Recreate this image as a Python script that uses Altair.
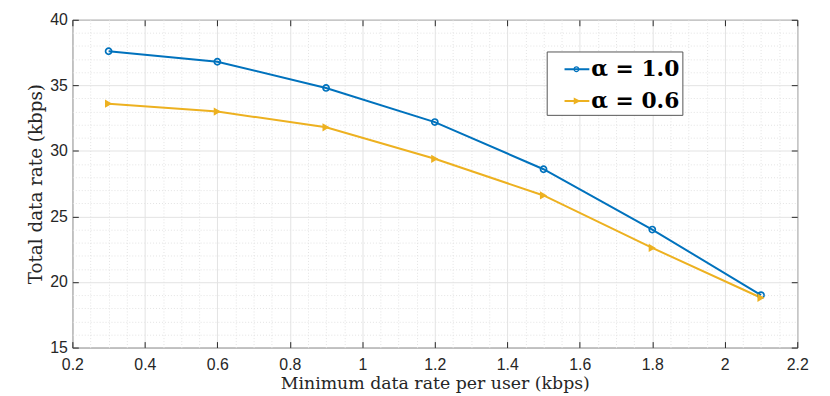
import altair as alt
import pandas as pd

# ---- data ----
x_vals = [0.3, 0.6, 0.9, 1.2, 1.5, 1.8, 2.1]
rate_a10 = [37.6, 36.8, 34.8, 32.2, 28.6, 24.0, 19.0]
rate_a06 = [33.6, 33.0, 31.8, 29.4, 26.6, 22.6, 18.8]
series_names = ["α = 1.0", "α = 0.6"]
series_colors = ["#0072BD", "#EDB120"]

x_major = [0.2, 0.4, 0.6, 0.8, 1.0, 1.2, 1.4, 1.6, 1.8, 2.0, 2.2]
y_major = [15, 20, 25, 30, 35, 40]
x_ticks = [round(0.2 + 0.05 * i, 2) for i in range(41)]
y_ticks = list(range(15, 41))

df = pd.DataFrame({
    "x": x_vals + x_vals,
    "y": rate_a10 + rate_a06,
    "series": [series_names[0]] * len(x_vals) + [series_names[1]] * len(x_vals),
})

# legend symbols: line + marker (unit-square paths)
legend_paths = [
    "M0,-0.07H1.67V0.07H0Z"
    "M1.0,0A0.2,0.2,0,1,1,0.6,0A0.2,0.2,0,1,1,1.0,0Z"
    "M0.92,0A0.12,0.12,0,1,0,0.68,0A0.12,0.12,0,1,0,0.92,0Z",
    "M0,-0.07H1.67V0.07H0Z"
    "M0.62,-0.24L1.09,0L0.62,0.24Z",
]

axis_color = "#262626"
grid_color = "#e3e3e3"
x_minor = "abs(datum.value*5 - round(datum.value*5)) > 0.001"
y_minor = "datum.value % 5 != 0"

xscale = alt.Scale(domain=[0.2, 2.2], nice=False, zero=False)
yscale = alt.Scale(domain=[15, 40], nice=False, zero=False)
cscale = alt.Scale(domain=series_names, range=series_colors)
sscale = alt.Scale(domain=series_names, range=legend_paths)

x_axis = alt.Axis(
    orient="bottom", values=x_ticks, title="Minimum data rate per user (kbps)",
    labelExpr=f"({x_minor}) ? '' : format(datum.value, '~g')",
    labelOverlap=False, labelFlush=False, labelFont="Liberation Sans", labelFontSize=16,
    labelColor=axis_color, labelPadding=15,
    tickSize=alt.ExprRef(expr="-6"), tickColor=axis_color,
    tickOpacity={"condition": {"test": x_minor, "value": 0}, "value": 1},
    grid=True, gridColor=grid_color, gridOpacity=1,
    gridDash={"condition": {"test": x_minor, "value": [1, 2]}, "value": []},
    domain=False, titleFont="DejaVu Serif", titleFontSize=17.5, titleFontWeight="normal",
    titleColor=axis_color, titlePadding=2,
)
y_axis = alt.Axis(
    orient="left", values=y_ticks, title="Total data rate (kbps)",
    labelExpr=f"({y_minor}) ? '' : format(datum.value, '~g')",
    labelOverlap=False, labelFlush=False, labelFont="Liberation Sans", labelFontSize=16,
    labelColor=axis_color, labelPadding=11,
    tickSize=alt.ExprRef(expr="-6"), tickColor=axis_color,
    tickOpacity={"condition": {"test": y_minor, "value": 0}, "value": 1},
    grid=True, gridColor=grid_color, gridOpacity=1,
    gridDash={"condition": {"test": y_minor, "value": [1, 2]}, "value": []},
    domain=False, titleFont="DejaVu Serif", titleFontSize=18.5, titleFontWeight="normal",
    titleColor=axis_color, titlePadding=4,
)
x_axis_top = alt.Axis(orient="top", values=x_major, labels=False, title=None, grid=False,
                      domain=False, tickSize=alt.ExprRef(expr="-6"), tickColor=axis_color)
y_axis_right = alt.Axis(orient="right", values=y_major, labels=False, title=None, grid=False,
                        domain=False, tickSize=alt.ExprRef(expr="-6"), tickColor=axis_color)

legend = alt.Legend(
    title=None, orient="none", legendX=479, legendY=32, padding=3,
    strokeColor="#555555", fillColor="white",
    labelFont="DejaVu Serif", labelFontWeight="bold", labelFontSize=22, labelColor="black",
    labelExpr="datum.label + '\u2002\u2009'",
    labelOffset=12, symbolSize=900, symbolOpacity=1, symbolStrokeWidth=0, rowPadding=6,
)

lines = alt.Chart(df).mark_line(strokeWidth=2).encode(
    x=alt.X("x:Q", scale=xscale, axis=x_axis),
    y=alt.Y("y:Q", scale=yscale, axis=y_axis),
    color=alt.Color("series:N", scale=cscale, legend=legend),
)

pts_a = alt.Chart(df).transform_filter(alt.datum.series == series_names[0]).mark_point(
    shape="circle", filled=False, color=series_colors[0], size=38, strokeWidth=1.7, opacity=1
).encode(
    x=alt.X("x:Q", scale=xscale, axis=None),
    y=alt.Y("y:Q", scale=yscale, axis=None),
)

pts_b = alt.Chart(df).transform_filter(alt.datum.series == series_names[1]).mark_point(
    shape="triangle-right", filled=True, color=series_colors[1], size=70, opacity=1
).encode(
    x=alt.X("x:Q", scale=xscale, axis=None),
    y=alt.Y("y:Q", scale=yscale, axis=None),
)

legend_layer = alt.Chart(df).mark_point(filled=True, opacity=0).encode(
    x=alt.X("x:Q", scale=xscale, axis=x_axis_top),
    y=alt.Y("y:Q", scale=yscale, axis=y_axis_right),
    color=alt.Color("series:N", scale=cscale, legend=legend),
    shape=alt.Shape("series:N", scale=sscale, legend=legend),
)

chart = alt.layer(lines, pts_a, pts_b, legend_layer).resolve_axis(
    x="independent", y="independent"
).properties(
    width=732, height=331,
    padding={"left": 65, "top": 10, "right": 25, "bottom": 47},
    autosize=alt.AutoSizeParams(type="none"),
    background="white",
).configure_view(stroke="#404040", strokeWidth=1)

chart.save("out.html", embed_options={"renderer": "svg", "actions": False})
